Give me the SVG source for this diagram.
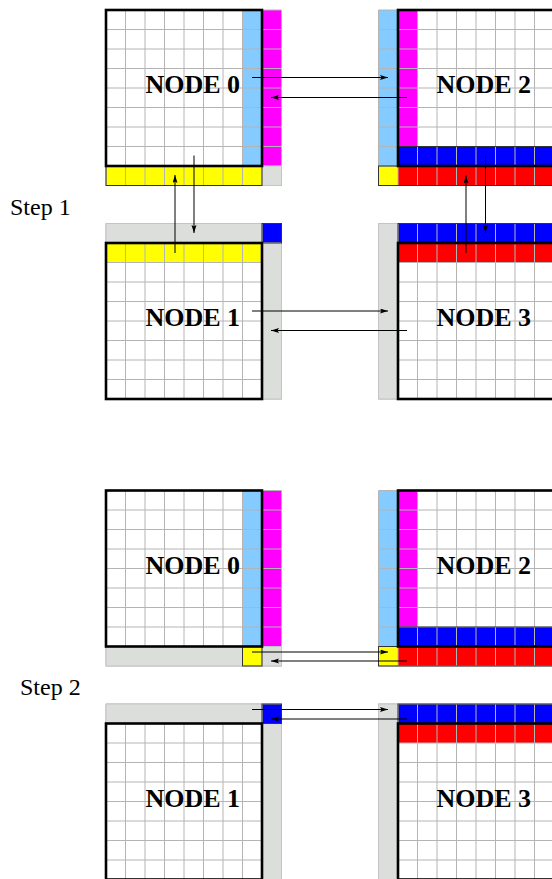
<svg xmlns="http://www.w3.org/2000/svg" xmlns:xlink="http://www.w3.org/1999/xlink" width="552" height="879" viewBox="0 0 552 879">
<style>
.lb{fill:#85cbff}
.mg{fill:#ff00ff}
.ye{fill:#ffff00}
.bl{fill:#0000ff}
.rd{fill:#ff0000}
.gr{fill:#dcdedc;stroke:#c4c4c4;stroke-width:1}
.ol{fill:none;stroke:#333;stroke-width:1}
.grid{fill:none;stroke:#b4b4b4;stroke-width:1}
.box{fill:none;stroke:#000;stroke-width:2.6}
.lbl{font-family:"Liberation Serif","Times New Roman",serif;font-weight:bold;font-size:26px;fill:#000}
.step{font-family:"Liberation Serif","Times New Roman",serif;font-size:24px;fill:#000}
.arr{stroke:#000;stroke-width:1;fill:none;marker-end:url(#ah)}
</style>
<defs>
<marker id="ah" markerUnits="userSpaceOnUse" markerWidth="9" markerHeight="6" refX="8" refY="2.5" orient="auto">
<path d="M0,0 L8,2.5 L0,5 L1.5,2.5 z" fill="#000"/>
</marker>
<path id="g9" class="grid" d="M0 0V175.5M19.5 0V175.5M39 0V175.5M58.5 0V175.5M78 0V175.5M97.5 0V175.5M117 0V175.5M136.5 0V175.5M156 0V175.5M175.5 0V175.5M0 0H175.5M0 19.5H175.5M0 39H175.5M0 58.5H175.5M0 78H175.5M0 97.5H175.5M0 117H175.5M0 136.5H175.5M0 156H175.5M0 175.5H175.5"/>
</defs>
<rect width="552" height="879" fill="#fff"/>

<text class="step" x="10" y="215">Step 1</text>
<text class="step" x="20" y="695">Step 2</text>

<!-- STEP 1 -->
<g id="s1-node0">
<rect class="lb" x="242.5" y="10" width="19.5" height="156"/>
<rect class="mg" x="262" y="10" width="19.5" height="156"/>
<rect class="ye" x="106" y="166" width="156" height="19.5"/>
<use xlink:href="#g9" x="106" y="10"/>
<rect class="gr" x="262" y="166" width="19.5" height="19.5"/>
<rect class="ol" x="106" y="166" width="156" height="19.5"/>
<rect class="box" x="106" y="10" width="156" height="156"/>
<text class="lbl" x="145.5" y="92.5">NODE 0</text>
</g>

<g id="s1-node2">
<rect class="lb" x="378.5" y="10" width="19.5" height="156"/>
<rect class="mg" x="398" y="10" width="19.5" height="136.5"/>
<rect class="bl" x="398" y="146.5" width="156" height="19.5"/>
<rect class="rd" x="398" y="166" width="156" height="19.5"/>
<rect class="ye" x="378.5" y="166" width="19.5" height="19.5"/>
<use xlink:href="#g9" x="378.5" y="10"/>
<rect class="ol" x="378.5" y="166" width="175.5" height="19.5"/>
<rect class="ol" x="398" y="146.5" width="156" height="19.5"/>
<rect class="box" x="398" y="10" width="156" height="156"/>
<text class="lbl" x="436.5" y="92.5">NODE 2</text>
</g>

<g id="s1-node1">
<rect class="bl" x="262" y="223.5" width="19.5" height="19.5"/>
<rect class="ye" x="106" y="243" width="156" height="19.5"/>
<use xlink:href="#g9" x="106" y="223.5"/>
<rect class="gr" x="106" y="223.5" width="156" height="19.5"/>
<rect class="gr" x="262" y="243" width="19.5" height="156"/>
<rect class="ol" x="262" y="223.5" width="19.5" height="19.5"/>
<rect class="box" x="106" y="243" width="156" height="156"/>
<text class="lbl" x="145.5" y="326">NODE 1</text>
</g>

<g id="s1-node3">
<rect class="bl" x="398" y="223.5" width="156" height="19.5"/>
<rect class="rd" x="398" y="243" width="156" height="19.5"/>
<use xlink:href="#g9" x="378.5" y="223.5"/>
<rect class="gr" x="378.5" y="223.5" width="19.5" height="175.5"/>
<rect class="ol" x="398" y="223.5" width="156" height="19.5"/>
<rect class="box" x="398" y="243" width="156" height="156"/>
<text class="lbl" x="436.5" y="326">NODE 3</text>
</g>

<!-- STEP 2 -->
<g id="s2-node0">
<rect class="lb" x="242.5" y="490.5" width="19.5" height="156"/>
<rect class="mg" x="262" y="490.5" width="19.5" height="156"/>
<rect class="ye" x="242.5" y="646.5" width="19.5" height="19.5"/>
<use xlink:href="#g9" x="106" y="490.5"/>
<rect class="gr" x="106" y="646.5" width="136.5" height="19.5"/>
<rect class="gr" x="262" y="646.5" width="19.5" height="19.5"/>
<rect class="ol" x="242.5" y="646.5" width="19.5" height="19.5"/>
<rect class="box" x="106" y="490.5" width="156" height="156"/>
<text class="lbl" x="145.5" y="573.5">NODE 0</text>
</g>

<g id="s2-node2">
<rect class="lb" x="378.5" y="490.5" width="19.5" height="156"/>
<rect class="mg" x="398" y="490.5" width="19.5" height="136.5"/>
<rect class="bl" x="398" y="627" width="156" height="19.5"/>
<rect class="rd" x="398" y="646.5" width="156" height="19.5"/>
<rect class="ye" x="378.5" y="646.5" width="19.5" height="19.5"/>
<use xlink:href="#g9" x="378.5" y="490.5"/>
<rect class="ol" x="378.5" y="646.5" width="175.5" height="19.5"/>
<rect class="ol" x="398" y="627" width="156" height="19.5"/>
<rect class="box" x="398" y="490.5" width="156" height="156"/>
<text class="lbl" x="436.5" y="573.5">NODE 2</text>
</g>

<g id="s2-node1">
<rect class="bl" x="262" y="704" width="19.5" height="19.5"/>
<use xlink:href="#g9" x="106" y="704"/>
<rect class="gr" x="106" y="704" width="156" height="19.5"/>
<rect class="gr" x="262" y="723.5" width="19.5" height="156"/>
<rect class="ol" x="262" y="704" width="19.5" height="19.5"/>
<rect class="box" x="106" y="723.5" width="156" height="156"/>
<text class="lbl" x="145.5" y="807">NODE 1</text>
</g>

<g id="s2-node3">
<rect class="bl" x="398" y="704" width="156" height="19.5"/>
<rect class="rd" x="398" y="723.5" width="156" height="19.5"/>
<use xlink:href="#g9" x="378.5" y="704"/>
<rect class="gr" x="378.5" y="704" width="19.5" height="175.5"/>
<rect class="ol" x="398" y="704" width="156" height="19.5"/>
<rect class="box" x="398" y="723.5" width="156" height="156"/>
<text class="lbl" x="436.5" y="807">NODE 3</text>
</g>

<g id="connectors">
<line class="arr" x1="252" y1="77.5" x2="388" y2="77.5"/>
<line class="arr" x1="407" y1="97.5" x2="271" y2="97.5"/>
<line class="arr" x1="194" y1="155.5" x2="194" y2="233"/>
<line class="arr" x1="175" y1="253" x2="175" y2="175"/>
<line class="arr" x1="485.5" y1="155.5" x2="485.5" y2="233"/>
<line class="arr" x1="466" y1="253" x2="466" y2="175.5"/>
<line class="arr" x1="252" y1="311" x2="388" y2="311"/>
<line class="arr" x1="407" y1="330.5" x2="271" y2="330.5"/>
<line class="arr" x1="252" y1="652" x2="388" y2="652"/>
<line class="arr" x1="407" y1="661" x2="271" y2="661"/>
<line class="arr" x1="252" y1="709.5" x2="388" y2="709.5"/>
<line class="arr" x1="407" y1="719" x2="271" y2="719"/>
</g>
</svg>
